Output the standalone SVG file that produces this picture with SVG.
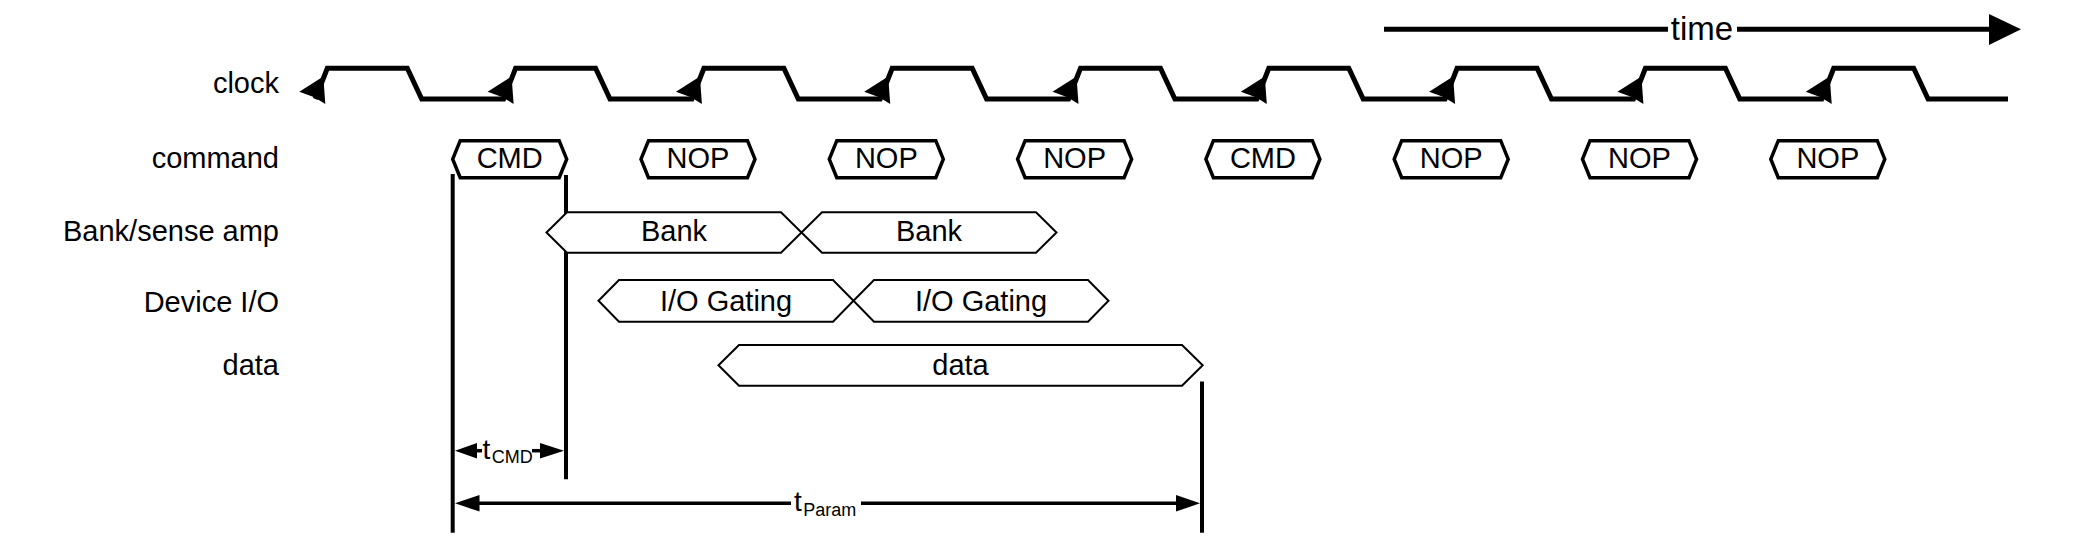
<svg xmlns="http://www.w3.org/2000/svg" xmlns:xlink="http://www.w3.org/1999/xlink" width="2080" height="546" viewBox="0 0 2080 546">
<style>
text{font-family:"Liberation Sans",Arial,sans-serif;fill:#000}
.lbl{font-size:29px;text-anchor:end}
.bt{font-size:29px;text-anchor:middle}
.cmd{fill:#fff;stroke:#000;stroke-width:3.5;stroke-linejoin:miter}
.seg{fill:#fff;stroke:#000;stroke-width:2}
.vl{stroke:#000;stroke-width:4;fill:none}
.ln{stroke:#000;fill:none}
.ah{fill:#000;stroke:none}
</style>
<defs>
<path id="ck" d="M-28,91.7 L-4,76.5 L-2,104 L-13,97.3 Z"/>
<path id="cbox" d="M0,159.2 L7.5,140.7 L106.5,140.7 L114,159.2 L106.5,177.7 L7.5,177.7 Z"/>
</defs>
<rect width="2080" height="546" fill="#fff"/>

<g id="labels">
<text class="lbl" x="279" y="92.7">clock</text>
<text class="lbl" x="279" y="168">command</text>
<text class="lbl" x="279" y="240.7">Bank/sense amp</text>
<text class="lbl" x="279" y="311.7">Device I/O</text>
<text class="lbl" x="279" y="375">data</text>
</g>

<g id="time-arrow">
<line class="ln" x1="1384" y1="29.3" x2="1668" y2="29.3" stroke-width="5"/>
<line class="ln" x1="1737" y1="29.3" x2="1992" y2="29.3" stroke-width="5"/>
<polygon class="ah" points="1989,14 2021,29.3 1989,45"/>
<text x="1702" y="40" font-size="33" text-anchor="middle">time</text>
</g>

<g id="clock">
<path class="ln" stroke-width="5" stroke-linejoin="miter" d="M315.3,99 L327.3,68.3 L407.3,68.3 L421.7,99 L503.6,99 L515.6,68.3 L595.6,68.3 L610,99 L691.9,99 L703.9,68.3 L783.9,68.3 L798.3,99 L880.2,99 L892.2,68.3 L972.2,68.3 L986.6,99 L1068.5,99 L1080.5,68.3 L1160.5,68.3 L1174.9,99 L1256.8,99 L1268.8,68.3 L1348.8,68.3 L1363.2,99 L1445.1,99 L1457.1,68.3 L1537.1,68.3 L1551.5,99 L1633.4,99 L1645.4,68.3 L1725.4,68.3 L1739.8,99 L1821.7,99 L1833.7,68.3 L1913.7,68.3 L1928.1,99 L2008,99"/>
<use href="#ck" xlink:href="#ck" x="327.3" class="ah"/>
<use href="#ck" xlink:href="#ck" x="515.6" class="ah"/>
<use href="#ck" xlink:href="#ck" x="703.9" class="ah"/>
<use href="#ck" xlink:href="#ck" x="892.2" class="ah"/>
<use href="#ck" xlink:href="#ck" x="1080.5" class="ah"/>
<use href="#ck" xlink:href="#ck" x="1268.8" class="ah"/>
<use href="#ck" xlink:href="#ck" x="1457.1" class="ah"/>
<use href="#ck" xlink:href="#ck" x="1645.4" class="ah"/>
<use href="#ck" xlink:href="#ck" x="1833.7" class="ah"/>
</g>

<g id="connectors">
<line class="vl" x1="452.7" y1="174" x2="452.7" y2="532.7"/>
<line class="vl" x1="566" y1="175" x2="566" y2="479.3"/>
<line class="vl" x1="1202" y1="381.5" x2="1202" y2="532.7"/>
<polygon class="ah" points="455,450.7 477,443 477,458.4"/>
<line class="ln" x1="476" y1="450.7" x2="482" y2="450.7" stroke-width="3.5"/>
<line class="ln" x1="532" y1="450.7" x2="541" y2="450.7" stroke-width="3.5"/>
<polygon class="ah" points="564,450.7 540,443 540,458.4"/>
<polygon class="ah" points="455,503.3 479.5,495 479.5,511.6"/>
<line class="ln" x1="479" y1="503.3" x2="791" y2="503.3" stroke-width="3.5"/>
<line class="ln" x1="861" y1="503.3" x2="1177" y2="503.3" stroke-width="3.5"/>
<polygon class="ah" points="1200,503.3 1176,495 1176,511.6"/>
</g>

<g id="tCMD"><text x="482.5" y="458.5" font-size="28">t<tspan font-size="18" dx="1.5" dy="4.4">CMD</tspan></text></g>
<g id="tParam"><text x="794" y="511" font-size="28">t<tspan font-size="18" dx="1.5" dy="4.5">Param</tspan></text></g>

<g id="cmd1"><use href="#cbox" xlink:href="#cbox" x="452.7" class="cmd"/><text class="bt" x="509.7" y="168">CMD</text></g>
<g id="nop1"><use href="#cbox" xlink:href="#cbox" x="641" class="cmd"/><text class="bt" x="698" y="168">NOP</text></g>
<g id="nop2"><use href="#cbox" xlink:href="#cbox" x="829.3" class="cmd"/><text class="bt" x="886.3" y="168">NOP</text></g>
<g id="nop3"><use href="#cbox" xlink:href="#cbox" x="1017.6" class="cmd"/><text class="bt" x="1074.6" y="168">NOP</text></g>
<g id="cmd2"><use href="#cbox" xlink:href="#cbox" x="1205.9" class="cmd"/><text class="bt" x="1262.9" y="168">CMD</text></g>
<g id="nop4"><use href="#cbox" xlink:href="#cbox" x="1394.2" class="cmd"/><text class="bt" x="1451.2" y="168">NOP</text></g>
<g id="nop5"><use href="#cbox" xlink:href="#cbox" x="1582.5" class="cmd"/><text class="bt" x="1639.5" y="168">NOP</text></g>
<g id="nop6"><use href="#cbox" xlink:href="#cbox" x="1770.8" class="cmd"/><text class="bt" x="1827.8" y="168">NOP</text></g>

<g id="bank1"><polygon class="seg" points="546.5,232.5 567,212.3 781,212.3 801.5,232.5 781,252.7 567,252.7"/><text class="bt" x="674" y="241">Bank</text></g>
<g id="bank2"><polygon class="seg" points="801.5,232.5 822,212.3 1036,212.3 1056.5,232.5 1036,252.7 822,252.7"/><text class="bt" x="929" y="241">Bank</text></g>
<g id="io1"><polygon class="seg" points="598.5,300.8 619,280 833,280 853.5,300.8 833,321.7 619,321.7"/><text class="bt" x="726" y="310.5">I/O Gating</text></g>
<g id="io2"><polygon class="seg" points="853.5,300.8 874,280 1088,280 1108.5,300.8 1088,321.7 874,321.7"/><text class="bt" x="981" y="310.5">I/O Gating</text></g>
<g id="data"><polygon class="seg" points="718.5,365.3 739,345 1182,345 1202.7,365.3 1182,385.7 739,385.7"/><text class="bt" x="960.5" y="375">data</text></g>
</svg>
